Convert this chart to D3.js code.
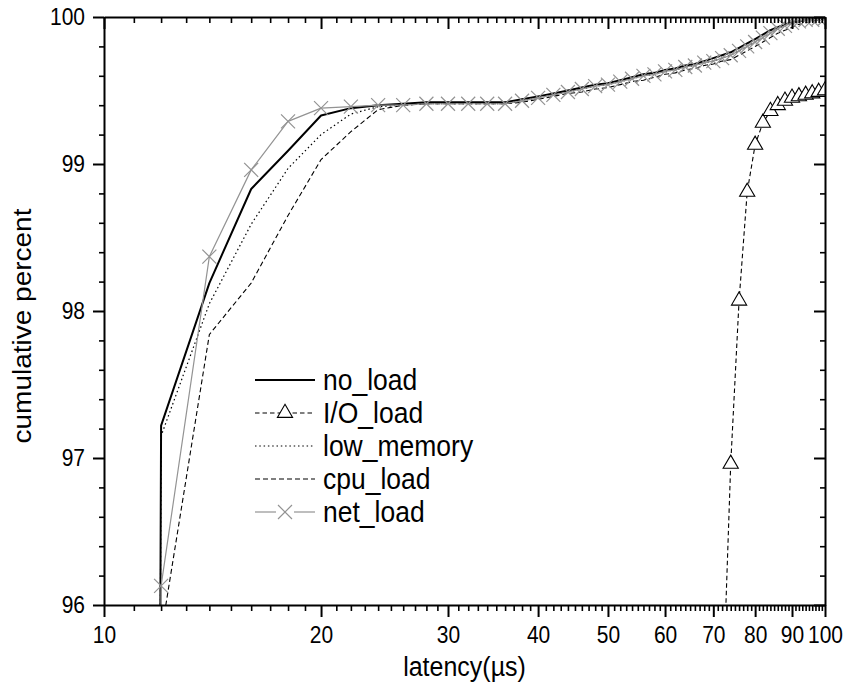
<!DOCTYPE html>
<html>
<head>
<meta charset="utf-8">
<script src="https://cdn.jsdelivr.net/npm/d3@7"></script>
<style>
  body { margin: 0; background: #fff; }
  text { font-family: "Liberation Sans", Arial, sans-serif; }
</style>
</head>
<body>
<svg id="chart" width="845" height="692"></svg>
<script>
// latency bins (µs) shared by four of the runs
const latency = [10, 12, 14, 16, 18, 20, 22, 24, 26, 28, 30, 32, 34, 36, 38, 40, 42, 44, 46, 48, 50,
  52, 54, 56, 58, 60, 62, 64, 66, 68, 70, 72, 74, 76, 78, 80, 82, 84, 86, 88, 90, 92, 94, 96, 98, 100];

const noLoad = [0, 97.22, 98.19, 98.83, 99.09, 99.33, 99.38, 99.40, 99.41, 99.42, 99.42, 99.42, 99.42, 99.42, 99.44, 99.46,
  99.48, 99.50, 99.52, 99.54, 99.55, 99.57, 99.59, 99.61, 99.62, 99.64, 99.65, 99.67, 99.68, 99.70, 99.72,
  99.74, 99.76, 99.79, 99.82, 99.85, 99.88, 99.91, 99.93, 99.95, 99.96, 99.97, 99.98, 99.99, 99.99, 100.00];

const lowMemory = [0, 97.15, 98.05, 98.59, 98.97, 99.20, 99.34, 99.39, 99.40, 99.41, 99.41, 99.41, 99.41, 99.41, 99.43, 99.45,
  99.47, 99.49, 99.51, 99.53, 99.54, 99.56, 99.58, 99.60, 99.61, 99.63, 99.64, 99.66, 99.67, 99.69, 99.70,
  99.72, 99.74, 99.77, 99.80, 99.83, 99.86, 99.89, 99.92, 99.94, 99.96, 99.97, 99.98, 99.98, 99.99, 99.99];

const cpuLoad = [0, 95.80, 97.84, 98.19, 98.65, 99.03, 99.22, 99.37, 99.40, 99.41, 99.41, 99.41, 99.41, 99.41, 99.42, 99.44,
  99.46, 99.48, 99.49, 99.51, 99.52, 99.54, 99.56, 99.57, 99.59, 99.61, 99.62, 99.64, 99.65, 99.67, 99.68,
  99.70, 99.71, 99.74, 99.77, 99.80, 99.83, 99.86, 99.89, 99.91, 99.93, 99.95, 99.96, 99.97, 99.98, 99.99];

const netLoad = [0, 96.13, 98.37, 98.96, 99.29, 99.38, 99.39, 99.40, 99.40, 99.41, 99.41, 99.41, 99.41, 99.41, 99.43, 99.45,
  99.47, 99.49, 99.51, 99.53, 99.54, 99.56, 99.58, 99.60, 99.61, 99.63, 99.64, 99.66, 99.67, 99.69, 99.70,
  99.72, 99.74, 99.77, 99.80, 99.83, 99.86, 99.89, 99.92, 99.94, 99.96, 99.97, 99.98, 99.98, 99.99, 99.99];

// I/O run only climbs into view past 70 µs
const ioLatency = [72, 74, 76, 78, 80, 82, 84, 86, 88, 90, 92, 94, 96, 98, 100];
const ioLoad = [95.25, 96.96, 98.07, 98.81, 99.13, 99.28, 99.36, 99.40, 99.43, 99.45, 99.46, 99.47, 99.48, 99.49, 99.50];

const xMajor = [10, 20, 30, 40, 50, 60, 70, 80, 90, 100];
const yMajor = [96, 97, 98, 99, 100];

const svg = d3.select("#chart");
const L = 104, R = 825, T = 17, B = 605;
const FONT = '"Liberation Sans", Arial, sans-serif';
const STRETCH = 1.12; // glyphs in the original are a bit taller than Arial

const x = d3.scaleLog().domain([10, 100]).range([L, R]);
const y = d3.scaleLinear().domain([96, 100]).range([B, T]);

const xMinor = d3.range(10, 101).filter(v => !xMajor.includes(v));
const yMinor = d3.range(0, 21).map(i => 96 + i * 0.2).filter(v => Math.abs(v - Math.round(v)) > 1e-6);

svg.append("defs").append("clipPath").attr("id", "plot")
  .append("rect").attr("x", L).attr("y", T).attr("width", R - L).attr("height", B - T);

var series = [
  { name: "no_load", xs: latency, ys: noLoad, color: "#000", width: 2, dash: null, marker: null },
  { name: "I/O_load", xs: ioLatency, ys: ioLoad, color: "#000", width: 1.1, dash: "4.5,3", marker: "tri" },
  { name: "low_memory", xs: latency, ys: lowMemory, color: "#000", width: 1.2, dash: "1.5,2.8", marker: null },
  { name: "cpu_load", xs: latency, ys: cpuLoad, color: "#000", width: 1.1, dash: "5,3", marker: null },
  { name: "net_load", xs: latency, ys: netLoad, color: "#939393", width: 1.2, dash: null, marker: "cross" }
];

var line = d3.line().x(d => x(d[0])).y(d => y(d[1]));
var tri = d3.symbol().type(d3.symbolTriangle).size(100);
var crossPath = "M-7,-7L7,7M-7,7L7,-7";

function drawMarker(g, kind, color) {
  if (kind === "tri") {
    g.append("path").attr("d", tri()).attr("fill", "#fff").attr("stroke", "#000").attr("stroke-width", 1.1);
  } else if (kind === "cross") {
    g.append("path").attr("d", crossPath).attr("fill", "none").attr("stroke", color).attr("stroke-width", 1.2);
  }
}

var plot = svg.append("g").attr("clip-path", "url(#plot)");
series.forEach(function(s) {
  var pts = s.xs.map((v, i) => [v, s.ys[i]]);
  plot.append("path")
    .datum(pts)
    .attr("d", line)
    .attr("fill", "none")
    .attr("stroke", s.color)
    .attr("stroke-width", s.width)
    .attr("stroke-dasharray", s.dash)
    .attr("stroke-linejoin", "round");
  if (s.marker) {
    plot.selectAll(null)
      .data(pts.filter(p => p[1] >= 95.5))
      .enter().append("g")
      .attr("transform", p => "translate(" + x(p[0]) + "," + y(p[1]) + ")")
      .each(function() { drawMarker(d3.select(this), s.marker, s.color); });
  }
});

// axes: major + minor ticks, mirrored inward on top/right
function axis(gen, tr, major) {
  var g = svg.append("g").attr("transform", tr).call(gen);
  g.attr("font-family", FONT).attr("font-size", 21).attr("fill", "#000");
  g.selectAll("line").attr("stroke", "#000").attr("stroke-width", major ? 2 : 1.6);
  g.select(".domain").attr("stroke", "#000").attr("stroke-width", 2);
  if (!major) g.select(".domain").remove();
  g.selectAll("text").attr("fill", "#000").each(function() {
    var t = d3.select(this);
    var tx = +t.attr("x") || 0, ty = +t.attr("y") || 0;
    t.attr("x", 0).attr("y", 0)
      .attr("transform", "translate(" + tx + "," + ty + ") scale(1," + STRETCH + ")");
  });
  return g;
}

axis(d3.axisBottom(x).tickValues(xMajor).tickFormat(d3.format("d")).tickSize(12).tickSizeOuter(0).tickPadding(9), "translate(0," + B + ")", true);
axis(d3.axisBottom(x).tickValues(xMinor).tickFormat("").tickSize(6).tickSizeOuter(0), "translate(0," + B + ")", false);
axis(d3.axisTop(x).tickValues(xMajor).tickFormat("").tickSize(-12).tickSizeOuter(0), "translate(0," + T + ")", true);
axis(d3.axisTop(x).tickValues(xMinor).tickFormat("").tickSize(-6).tickSizeOuter(0), "translate(0," + T + ")", false);
axis(d3.axisLeft(y).tickValues(yMajor).tickFormat(d3.format("d")).tickSize(11).tickSizeOuter(0).tickPadding(8), "translate(" + L + ",0)", true);
axis(d3.axisLeft(y).tickValues(yMinor).tickFormat("").tickSize(5).tickSizeOuter(0), "translate(" + L + ",0)", false);
axis(d3.axisRight(y).tickValues(yMajor).tickFormat("").tickSize(-11).tickSizeOuter(0), "translate(" + R + ",0)", true);
axis(d3.axisRight(y).tickValues(yMinor).tickFormat("").tickSize(-5).tickSizeOuter(0), "translate(" + R + ",0)", false);

// axis titles
svg.append("text")
  .attr("transform", "translate(" + ((L + R) / 2) + ",676) scale(1," + STRETCH + ")")
  .attr("text-anchor", "middle").attr("font-size", 25).attr("font-family", FONT)
  .text("latency(µs)");
svg.append("text")
  .attr("transform", "translate(31,326) scale(1," + STRETCH + ") rotate(-90)")
  .attr("text-anchor", "middle").attr("font-size", 25).attr("font-family", FONT)
  .text("cumulative percent");

// legend
var legend = svg.append("g");
series.forEach(function(s, i) {
  var ly = 380 + i * 33;
  var g = legend.append("g").attr("transform", "translate(255," + ly + ")");
  if (s.marker === "cross") {
    g.append("line").attr("x1", 0).attr("x2", 21).attr("stroke", s.color).attr("stroke-width", s.width);
    g.append("line").attr("x1", 39).attr("x2", 60).attr("stroke", s.color).attr("stroke-width", s.width);
  } else {
    g.append("line").attr("x1", 0).attr("x2", 60)
      .attr("stroke", s.color).attr("stroke-width", s.width).attr("stroke-dasharray", s.dash);
  }
  if (s.marker) {
    drawMarker(g.append("g").attr("transform", "translate(30,0)"), s.marker, s.color);
  }
  g.append("text")
    .attr("transform", "translate(68,10) scale(1," + STRETCH + ")")
    .attr("font-size", 26.5).attr("font-family", FONT).text(s.name);
});
</script>
</body>
</html>
